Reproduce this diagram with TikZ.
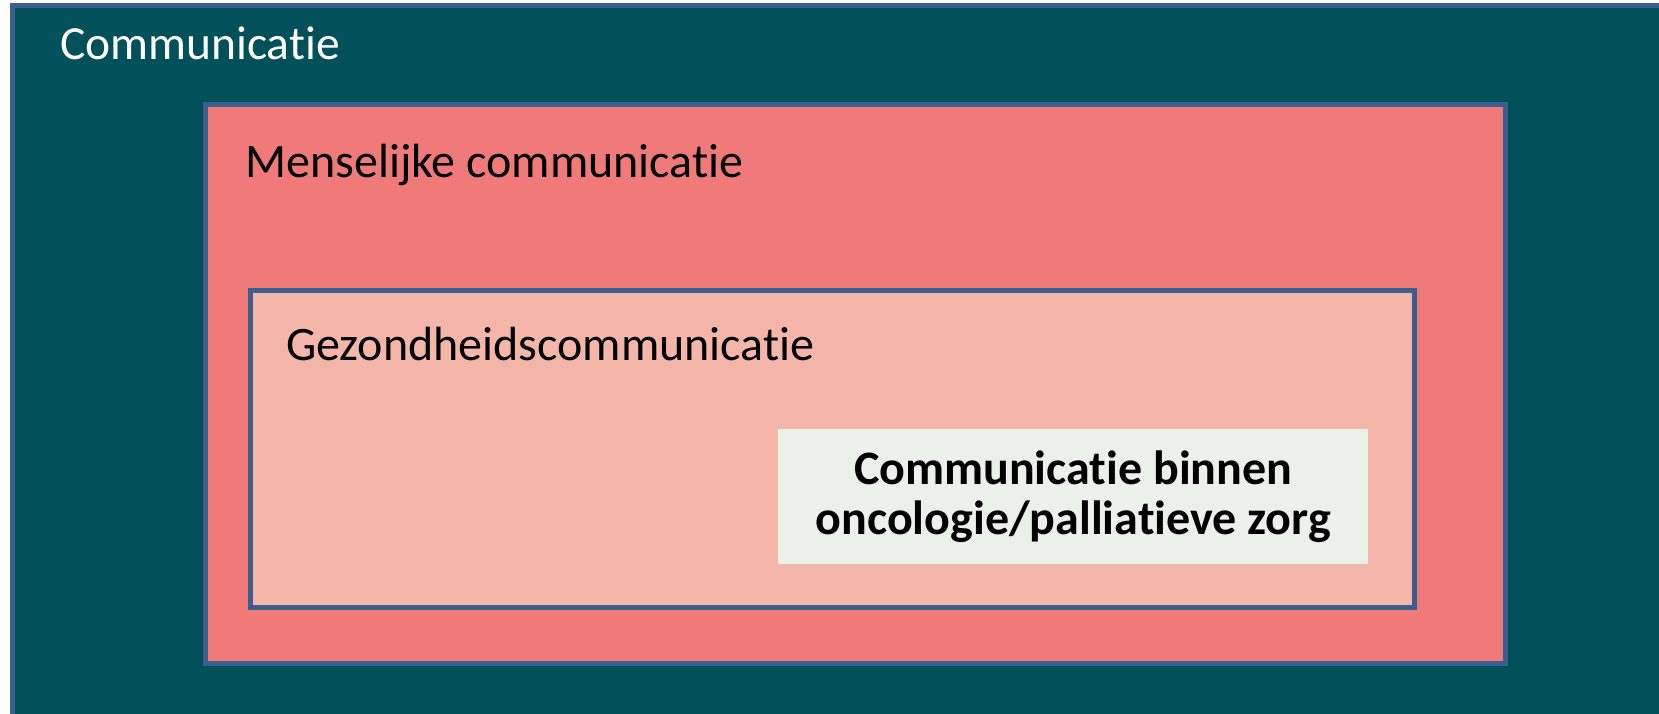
\documentclass[tikz,border=0pt]{standalone}
\usepackage{fontspec}
\setmainfont{Carlito}[Ligatures=NoCommon]
\definecolor{tealbg}{HTML}{02505A}
\definecolor{redbg}{HTML}{F07A7A}
\definecolor{pinkbg}{HTML}{F4B6A8}
\definecolor{palebg}{HTML}{EBF0EA}
\definecolor{bordercol}{HTML}{3B5F8C}
\tikzset{
  box/.style={draw=bordercol, line width=5pt, anchor=north west, inner sep=0pt, outer sep=0pt},
  lbl/.style={anchor=base west, inner sep=0pt, font=\fontsize{48}{56}\selectfont},
}
\begin{document}
\begin{tikzpicture}[x=1pt,y=-1pt]
\useasboundingbox (0,0) rectangle (1659,714);
\clip (0,0) rectangle (1659,714);
\node[box, fill=tealbg, minimum width=1700pt, minimum height=760pt] (outer) at (12,6) {};
\node[box, fill=redbg, minimum width=1300pt, minimum height=558pt] (human) at (205,105) {};
\node[box, fill=pinkbg, minimum width=1164pt, minimum height=317pt] (health) at (250.5,290.5) {};
\node[fill=palebg, anchor=north west, inner sep=0pt, minimum width=590pt, minimum height=135pt] (onco) at (778,429) {};
\node[lbl, text=white, font=\fontsize{47.5}{56}\selectfont] (t1) at (60,60) {Communicatie};
\node[lbl] (t2) at (245,178) {Menselijke communicatie};
\node[lbl] (t3) at (286,360) {Gezondheidscommunicatie};
\node[align=center, inner sep=0pt, font=\bfseries\fontsize{48}{50}\selectfont] (t4) at (onco.center) {Communicatie binnen\\oncologie/palliatieve zorg};
\end{tikzpicture}
\end{document}
